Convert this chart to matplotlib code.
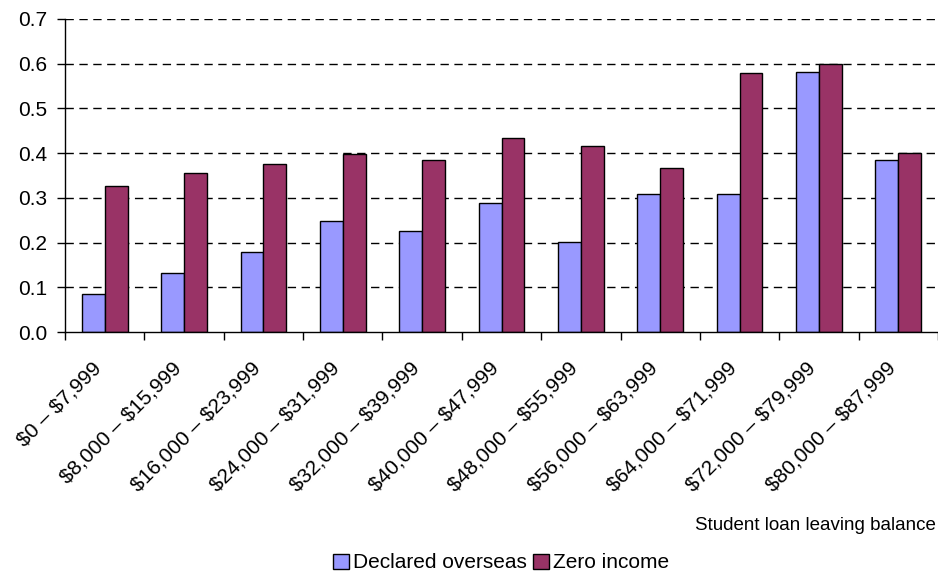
import numpy as np
import matplotlib
matplotlib.use("Agg")
import matplotlib.pyplot as plt
import matplotlib.transforms as mtransforms
from matplotlib.patches import Patch

plt.rcParams["font.family"] = ["Liberation Sans", "DejaVu Sans"]
plt.rcParams["text.parse_math"] = False

# Data
categories = ["$0 – $7,999", "$8,000 – $15,999", "$16,000 – $23,999", "$24,000 – $31,999",
              "$32,000 – $39,999", "$40,000 – $47,999", "$48,000 – $55,999", "$56,000 – $63,999",
              "$64,000 – $71,999", "$72,000 – $79,999", "$80,000 – $87,999"]
declared_overseas = [0.086, 0.133, 0.178, 0.249, 0.226, 0.289, 0.201, 0.308, 0.308, 0.582, 0.384]
zero_income = [0.326, 0.355, 0.375, 0.398, 0.384, 0.433, 0.415, 0.366, 0.579, 0.600, 0.401]
y_ticks = [0.0, 0.1, 0.2, 0.3, 0.4, 0.5, 0.6, 0.7]

BLUE = "#9999FF"
PLUM = "#993366"

fig = plt.figure(figsize=(9.38, 5.76), dpi=100)
ax = fig.add_axes([65 / 938, 244 / 576, 1 - 65 / 938, 313 / 576])

x = np.arange(len(categories))
w = 0.288
ax.bar(x - w / 2, declared_overseas, w, color=BLUE, edgecolor="black", linewidth=1, zorder=3)
ax.bar(x + w / 2, zero_income, w, color=PLUM, edgecolor="black", linewidth=1, zorder=3)

ax.set_ylim(0, 0.7)
ax.set_xlim(-0.5, 10.43)
ax.set_yticks(y_ticks)
ax.set_yticklabels([f"{v:.1f}" for v in y_ticks])

# category boundaries get the ticks, labels sit at the centres
ax.set_xticks(np.arange(len(categories) + 1) - 0.5)
ax.set_xticklabels([])
ax.set_xticks(x, minor=True)
ax.set_xticklabels(categories, minor=True, rotation=45, ha="right", va="center",
                   rotation_mode="anchor", fontsize=15)
ax.tick_params(axis="x", which="minor", length=0, pad=24)
ax.tick_params(axis="x", which="major", length=6, width=1, direction="out")
ax.tick_params(axis="y", length=6, width=1, pad=7, labelsize=15)

# nudge the slanted labels a little to the left, like the original
shift = mtransforms.ScaledTranslation(-6 / 100, 0, fig.dpi_scale_trans)
for lab in ax.get_xticklabels(minor=True):
    lab.set_transform(lab.get_transform() + shift)

for v in y_ticks[1:]:
    ax.axhline(v, color="black", linewidth=1, dashes=(6, 4), zorder=1)

for s in ["top", "right"]:
    ax.spines[s].set_visible(False)
for s in ["left", "bottom"]:
    ax.spines[s].set_linewidth(1)
    ax.spines[s].set_zorder(4)

fig.text(936 / 938, 1 - 525 / 576, "Student loan leaving balance", ha="right", va="center",
         fontsize=13.5)

handles = [Patch(facecolor=BLUE, edgecolor="black", linewidth=1, label="Declared overseas"),
           Patch(facecolor=PLUM, edgecolor="black", linewidth=1, label="Zero income")]
fig.legend(handles=handles, loc="center", bbox_to_anchor=(501 / 938, 1 - 563 / 576), ncol=2,
           frameon=False, fontsize=15, handlelength=0.75, handleheight=0.75,
           handletextpad=0.2, columnspacing=0.3, borderpad=0)

fig.savefig("out.png", dpi=100)
